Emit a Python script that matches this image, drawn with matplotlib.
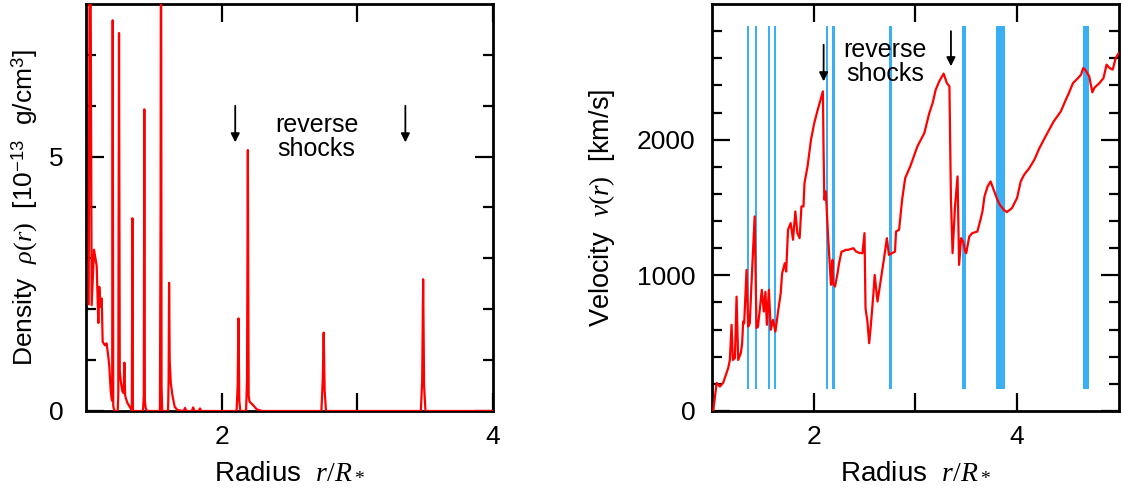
import numpy as np
import matplotlib
matplotlib.use("Agg")
import matplotlib.pyplot as plt

plt.rcParams["font.family"] = ["Liberation Sans", "DejaVu Sans"]
plt.rcParams["mathtext.fontset"] = "custom"
plt.rcParams["mathtext.rm"] = "Liberation Serif"
plt.rcParams["mathtext.it"] = "Liberation Serif:italic"
plt.rcParams["mathtext.sf"] = "Liberation Sans"

RED = "#FF0000"
BLUE = "#3AAFF6"

# ---- density profile (r/R*, 1e-13 g/cm^3) ----
dens_r = [1.020, 1.030, 1.042, 1.059, 1.070, 1.079, 1.091, 1.098, 1.108, 1.116,
          1.123, 1.140, 1.152, 1.165, 1.172, 1.182, 1.190, 1.193, 1.197, 1.201,
          1.206, 1.214, 1.234, 1.238, 1.2435, 1.249, 1.256, 1.268, 1.277, 1.283,
          1.289, 1.293, 1.305, 1.325, 1.336, 1.338, 1.342, 1.346, 1.350, 1.420,
          1.426, 1.430, 1.434, 1.440, 1.450, 1.545, 1.550, 1.553, 1.557, 1.562,
          1.605, 1.609, 1.6125, 1.617, 1.625, 1.637, 1.654, 1.674, 1.720, 1.730,
          1.740, 1.780, 1.790, 1.800, 1.830, 1.840, 1.850, 2.110, 2.118, 2.124,
          2.130, 2.138, 2.180, 2.187, 2.193, 2.199, 2.206, 2.230, 2.260, 2.300,
          2.735, 2.745, 2.752, 2.759, 2.769, 3.468, 3.478, 3.485, 3.492, 3.502,
          4.000]
dens_v = [2.10, 12.0, 2.08, 3.17, 3.00, 2.85, 1.73, 2.44, 2.05, 2.21,
          1.36, 1.29, 1.33, 1.06, 0.87, 0.41, 0.22, 0.20, 7.68, 0.10,
          0.03, 0.00, 0.00, 0.30, 7.43, 0.80, 0.59, 0.39, 0.35, 0.95,
          0.30, 0.26, 0.16, 0.07, 0.02, 0.00, 3.79, 0.00, 0.00, 0.00,
          0.30, 5.93, 0.20, 0.06, 0.00, 0.00, 4.00, 12.0, 0.50, 0.00,
          0.00, 0.60, 2.52, 1.00, 0.55, 0.31, 0.08, 0.02, 0.00, 0.06,
          0.00, 0.00, 0.07, 0.00, 0.00, 0.05, 0.00, 0.00, 0.50, 1.82,
          0.20, 0.00, 0.00, 0.60, 5.13, 0.30, 0.18, 0.12, 0.03, 0.00,
          0.00, 0.60, 1.54, 0.40, 0.00, 0.00, 0.60, 2.59, 0.50, 0.00,
          0.00]

# ---- velocity profile (r/R*, km/s) ----
vel_r = [1.013, 1.046, 1.078, 1.110, 1.160, 1.176, 1.193, 1.206, 1.226, 1.242,
         1.258, 1.284, 1.297, 1.307, 1.317, 1.340, 1.356, 1.372, 1.389, 1.420,
         1.438, 1.452, 1.470, 1.490, 1.510, 1.526, 1.540, 1.560, 1.578, 1.600,
         1.624, 1.650, 1.676, 1.690, 1.716, 1.730, 1.748, 1.774, 1.797, 1.820,
         1.840, 1.862, 1.880, 1.900, 1.910, 1.940, 1.974, 2.006, 2.040, 2.091,
         2.097, 2.105, 2.120, 2.140, 2.160, 2.170, 2.186, 2.190, 2.210, 2.235,
         2.250, 2.274, 2.300, 2.310, 2.340, 2.370, 2.390, 2.418, 2.450, 2.480,
         2.500, 2.510, 2.529, 2.546, 2.560, 2.588, 2.600, 2.628, 2.660, 2.690,
         2.720, 2.740, 2.770, 2.800, 2.810, 2.840, 2.870, 2.900, 2.950, 3.020,
         3.088, 3.137, 3.170, 3.200, 3.235, 3.278, 3.310, 3.335, 3.350, 3.366,
         3.390, 3.415, 3.430, 3.450, 3.470, 3.490, 3.500, 3.530, 3.560, 3.610,
         3.640, 3.660, 3.680, 3.710, 3.740, 3.770, 3.800, 3.830, 3.870, 3.900,
         3.950, 4.000, 4.036, 4.070, 4.120, 4.170, 4.220, 4.280, 4.360, 4.430,
         4.480, 4.510, 4.550, 4.600, 4.630, 4.650, 4.670, 4.710, 4.740, 4.760,
         4.810, 4.850, 4.880, 4.910, 4.940, 4.970, 5.000]
vel_v = [0, 207, 180, 207, 317, 376, 635, 376, 391, 843,
         376, 428, 500, 659, 646, 1040, 622, 646, 943, 1434,
         612, 620, 745, 893, 733, 878, 635, 893, 598, 672,
         585, 733, 868, 1015, 1089, 1028, 1336, 1385, 1262, 1471,
         1311, 1274, 1508, 1508, 1680, 1803, 2000, 2122, 2220, 2356,
         1950, 1557, 1618, 1311, 1065, 930, 1114, 943, 917, 1016,
         1089, 1175, 1180, 1188, 1188, 1195, 1200, 1175, 1165, 1163,
         1311, 758, 659, 500, 610, 868, 1003, 807, 967, 1114,
         1274, 1151, 1163, 1175, 1323, 1336, 1557, 1717, 1803, 1950,
         2048, 2196, 2270, 2368, 2430, 2487, 2417, 2393, 1557, 1163,
         1508, 1729, 1077, 1274, 1250, 1175, 1163, 1286, 1311, 1323,
         1409, 1471, 1582, 1655, 1692, 1631, 1570, 1520, 1483, 1466,
         1496, 1570, 1692, 1742, 1790, 1852, 1938, 2024, 2134, 2208,
         2295, 2344, 2417, 2454, 2480, 2528, 2516, 2466, 2349, 2382,
         2417, 2454, 2553, 2528, 2516, 2602, 2639]

# shell positions (left, right edge in r/R*)
shell_lo = [1.341, 1.422, 1.550, 1.608, 2.120, 2.185, 2.737, 3.463, 3.790, 4.650]
shell_hi = [1.360, 1.440, 1.568, 1.634, 2.140, 2.207, 2.767, 3.496, 3.880, 4.706]

arrow_r = [2.10, 3.354]

fig = plt.figure(figsize=(11.21, 4.88), dpi=100)
ax1 = fig.add_axes([0.0767, 0.1578, 0.3631, 0.834])
ax2 = fig.add_axes([0.6351, 0.1578, 0.3629, 0.834])


def style(ax, ypad):
    for sp in ax.spines.values():
        sp.set_linewidth(2.0)
    ax.tick_params(which="both", direction="in", top=True, right=True,
                   width=1.6, labelsize=19)
    ax.tick_params(which="major", length=13)
    ax.tick_params(which="minor", length=7)
    ax.tick_params(axis="x", pad=10)
    ax.tick_params(axis="y", pad=ypad)


# ---- left: density ----
ax1.plot(dens_r, dens_v, color=RED, lw=1.6, zorder=3)
ax1.set_xlim(1, 4)
ax1.set_ylim(0, 8)
ax1.set_xticks([2, 3, 4])
ax1.set_xticklabels(["2", "", "4"])
ax1.set_yticks([0, 5])
ax1.set_yticks([1, 2, 3, 4, 6, 7], minor=True)
style(ax1, 16)
for r in arrow_r:
    ax1.annotate("", xy=(r, 5.28), xytext=(r, 6.0),
                 arrowprops=dict(arrowstyle="-|>", color="black", lw=1.3,
                                 mutation_scale=13, shrinkA=0, shrinkB=0))
ax1.text(2.70, 5.38, "reverse\nshocks", ha="center", va="center",
         fontsize=18, linespacing=1.0)
ax1.set_xlabel(r"Radius  $r/R_*$", fontsize=20)
ax1.set_ylabel(r"Density  $\rho(r)$  [10$^{\mathsf{-13}}$  g/cm$^{\mathsf{3}}$]",
               fontsize=19)
ax1.xaxis.set_label_coords(0.5, -0.115)
ax1.yaxis.set_label_coords(-0.113, 0.5)

# ---- right: velocity ----
for lo, hi in zip(shell_lo, shell_hi):
    ax2.fill_between([lo, hi], 165, 2835, color=BLUE, lw=0, zorder=1)
ax2.plot(vel_r, vel_v, color=RED, lw=1.6, zorder=3)
ax2.set_xlim(1, 5)
ax2.set_ylim(0, 3000)
ax2.set_xticks([2, 3, 4])
ax2.set_xticklabels(["2", "", "4"])
ax2.set_yticks([0, 1000, 2000])
ax2.set_yticks([200, 400, 600, 800, 1200, 1400, 1600, 1800, 2200, 2400,
                2600, 2800], minor=True)
style(ax2, 12)
ax2.annotate("", xy=(2.098, 2430), xytext=(2.098, 2700),
             arrowprops=dict(arrowstyle="-|>", color="black", lw=1.3,
                             mutation_scale=13, shrinkA=0, shrinkB=0))
ax2.annotate("", xy=(3.35, 2541), xytext=(3.35, 2800),
             arrowprops=dict(arrowstyle="-|>", color="black", lw=1.3,
                             mutation_scale=13, shrinkA=0, shrinkB=0))
ax2.text(2.70, 2576, "reverse\nshocks", ha="center", va="center",
         fontsize=18, linespacing=1.0)
ax2.set_xlabel(r"Radius  $r/R_*$", fontsize=20)
ax2.set_ylabel(r"Velocity  $v(r)$  [km/s]", fontsize=19.5)
ax2.xaxis.set_label_coords(0.5, -0.115)
ax2.yaxis.set_label_coords(-0.233, 0.5)

fig.savefig("out.png", dpi=100)
